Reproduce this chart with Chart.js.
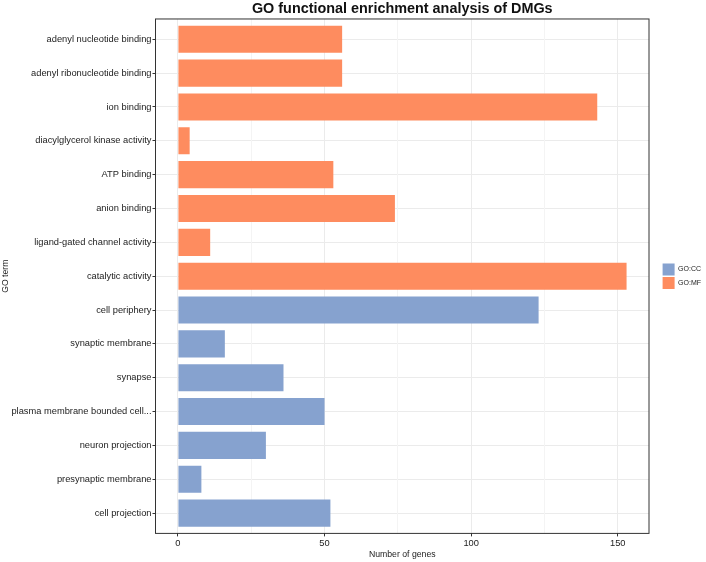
<!DOCTYPE html>
<html>
<head>
<meta charset="utf-8">
<script src="https://cdn.jsdelivr.net/npm/chart.js@4.4.1/dist/chart.umd.min.js"></script>
<style>
  html, body { margin: 0; padding: 0; background: #fff; }
  canvas { display: block; }
</style>
</head>
<body>
<canvas id="goChart" width="706" height="562"></canvas>
<script>
// GO terms, top to bottom
const terms = [
    'adenyl nucleotide binding',
    'adenyl ribonucleotide binding',
    'ion binding',
    'diacylglycerol kinase activity',
    'ATP binding',
    'anion binding',
    'ligand-gated channel activity',
    'catalytic activity',
    'cell periphery',
    'synaptic membrane',
    'synapse',
    'plasma membrane bounded cell...',
    'neuron projection',
    'presynaptic membrane',
    'cell projection'
];
const ontology = ['GO:MF', 'GO:MF', 'GO:MF', 'GO:MF', 'GO:MF', 'GO:MF', 'GO:MF', 'GO:MF',
                  'GO:CC', 'GO:CC', 'GO:CC', 'GO:CC', 'GO:CC', 'GO:CC', 'GO:CC'];
const geneCounts = [56, 56, 143, 4, 53, 74, 11, 153, 123, 16, 36, 50, 30, 8, 52];

const groups = ['GO:CC', 'GO:MF'];
const groupColors = { 'GO:CC': '#86A2CF', 'GO:MF': '#FE8C5F' };

const xMajorTicks = [0, 50, 100, 150];
const xTickValues = [0, 25, 50, 75, 100, 125, 150];

document.addEventListener('DOMContentLoaded', () => {
    Chart.defaults.font.family = "'Liberation Sans', Arial, sans-serif";
    Chart.defaults.color = '#222';

    const datasets = groups.map(g => ({
        label: g,
        data: terms
            .map((t, i) => ({ x: geneCounts[i], y: i + 1, g: ontology[i] }))
            .filter(d => d.g === g),
        backgroundColor: groupColors[g],
        borderWidth: 0,
        grouped: false,
        barPercentage: 0.8,
        categoryPercentage: 1,
        xAxisID: 'x',
        yAxisID: 'y'
    }));

    // ggplot-like panel border on all four sides
    const panelBorder = {
        id: 'panelBorder',
        afterDatasetsDraw(chart) {
            const { ctx, chartArea: a } = chart;
            ctx.save();
            ctx.strokeStyle = '#333';
            ctx.lineWidth = 1;
            ctx.strokeRect(a.left, a.top, a.right - a.left, a.bottom - a.top);
            ctx.restore();
        }
    };

    new Chart(document.getElementById('goChart'), {
        type: 'bar',
        data: { datasets: datasets },
        plugins: [panelBorder],
        options: {
            indexAxis: 'y',
            responsive: false,
            animation: false,
            layout: { padding: 0 },
            scales: {
                y: {
                    type: 'linear',
                    min: 0.4,
                    max: 15.6,
                    reverse: true,
                    bounds: 'data',
                    offset: false,
                    afterBuildTicks: axis => {
                        axis.ticks = terms.map((t, i) => ({ value: i + 1 }));
                    },
                    afterFit: axis => { axis.width = 155.5; },
                    grid: {
                        offset: false,
                        color: '#EBEBEB',
                        tickColor: '#333',
                        tickLength: 3
                    },
                    border: { display: false },
                    ticks: {
                        autoSkip: false,
                        padding: 1,
                        color: '#222',
                        font: { size: 9.3 },
                        callback: v => terms[v - 1]
                    },
                    title: {
                        display: true,
                        text: 'GO term',
                        color: '#222',
                        font: { size: 8.7 },
                        padding: { top: 0.5, bottom: 0 }
                    }
                },
                x: {
                    type: 'linear',
                    min: -7.65,
                    max: 160.65,
                    bounds: 'data',
                    afterBuildTicks: axis => {
                        axis.ticks = xTickValues.map(v => ({ value: v }));
                    },
                    grid: {
                        color: ctx => xMajorTicks.includes(ctx.tick.value) ? '#EBEBEB' : '#F4F4F4',
                        tickColor: ctx => xMajorTicks.includes(ctx.tick.value) ? '#333' : 'rgba(0,0,0,0)',
                        tickLength: 3
                    },
                    border: { display: false },
                    ticks: {
                        autoSkip: false,
                        maxRotation: 0,
                        padding: 1,
                        color: '#222',
                        font: { size: 9.3 },
                        callback: v => xMajorTicks.includes(v) ? String(v) : ''
                    },
                    title: {
                        display: true,
                        text: 'Number of genes',
                        color: '#222',
                        font: { size: 8.7 },
                        padding: { top: 0, bottom: 2 }
                    }
                },
                // empty spacer between panel and legend
                legendGap: {
                    type: 'linear',
                    axis: 'y',
                    position: 'right',
                    display: true,
                    grid: { display: false },
                    border: { display: false },
                    ticks: { display: false },
                    afterFit: axis => { axis.width = 12; }
                }
            },
            plugins: {
                title: {
                    display: true,
                    text: 'GO functional enrichment analysis of DMGs',
                    fullSize: false,
                    color: '#111',
                    font: { size: 14.4, weight: 'bold' },
                    padding: { top: 0, bottom: 1.7 }
                },
                legend: {
                    position: 'right',
                    fullSize: false,
                    maxWidth: 45,
                    labels: {
                        boxWidth: 12,
                        boxHeight: 12,
                        padding: 1.6,
                        color: '#222',
                        font: { size: 7 }
                    }
                },
                tooltip: { enabled: false }
            }
        }
    });
});
</script>
</body>
</html>
